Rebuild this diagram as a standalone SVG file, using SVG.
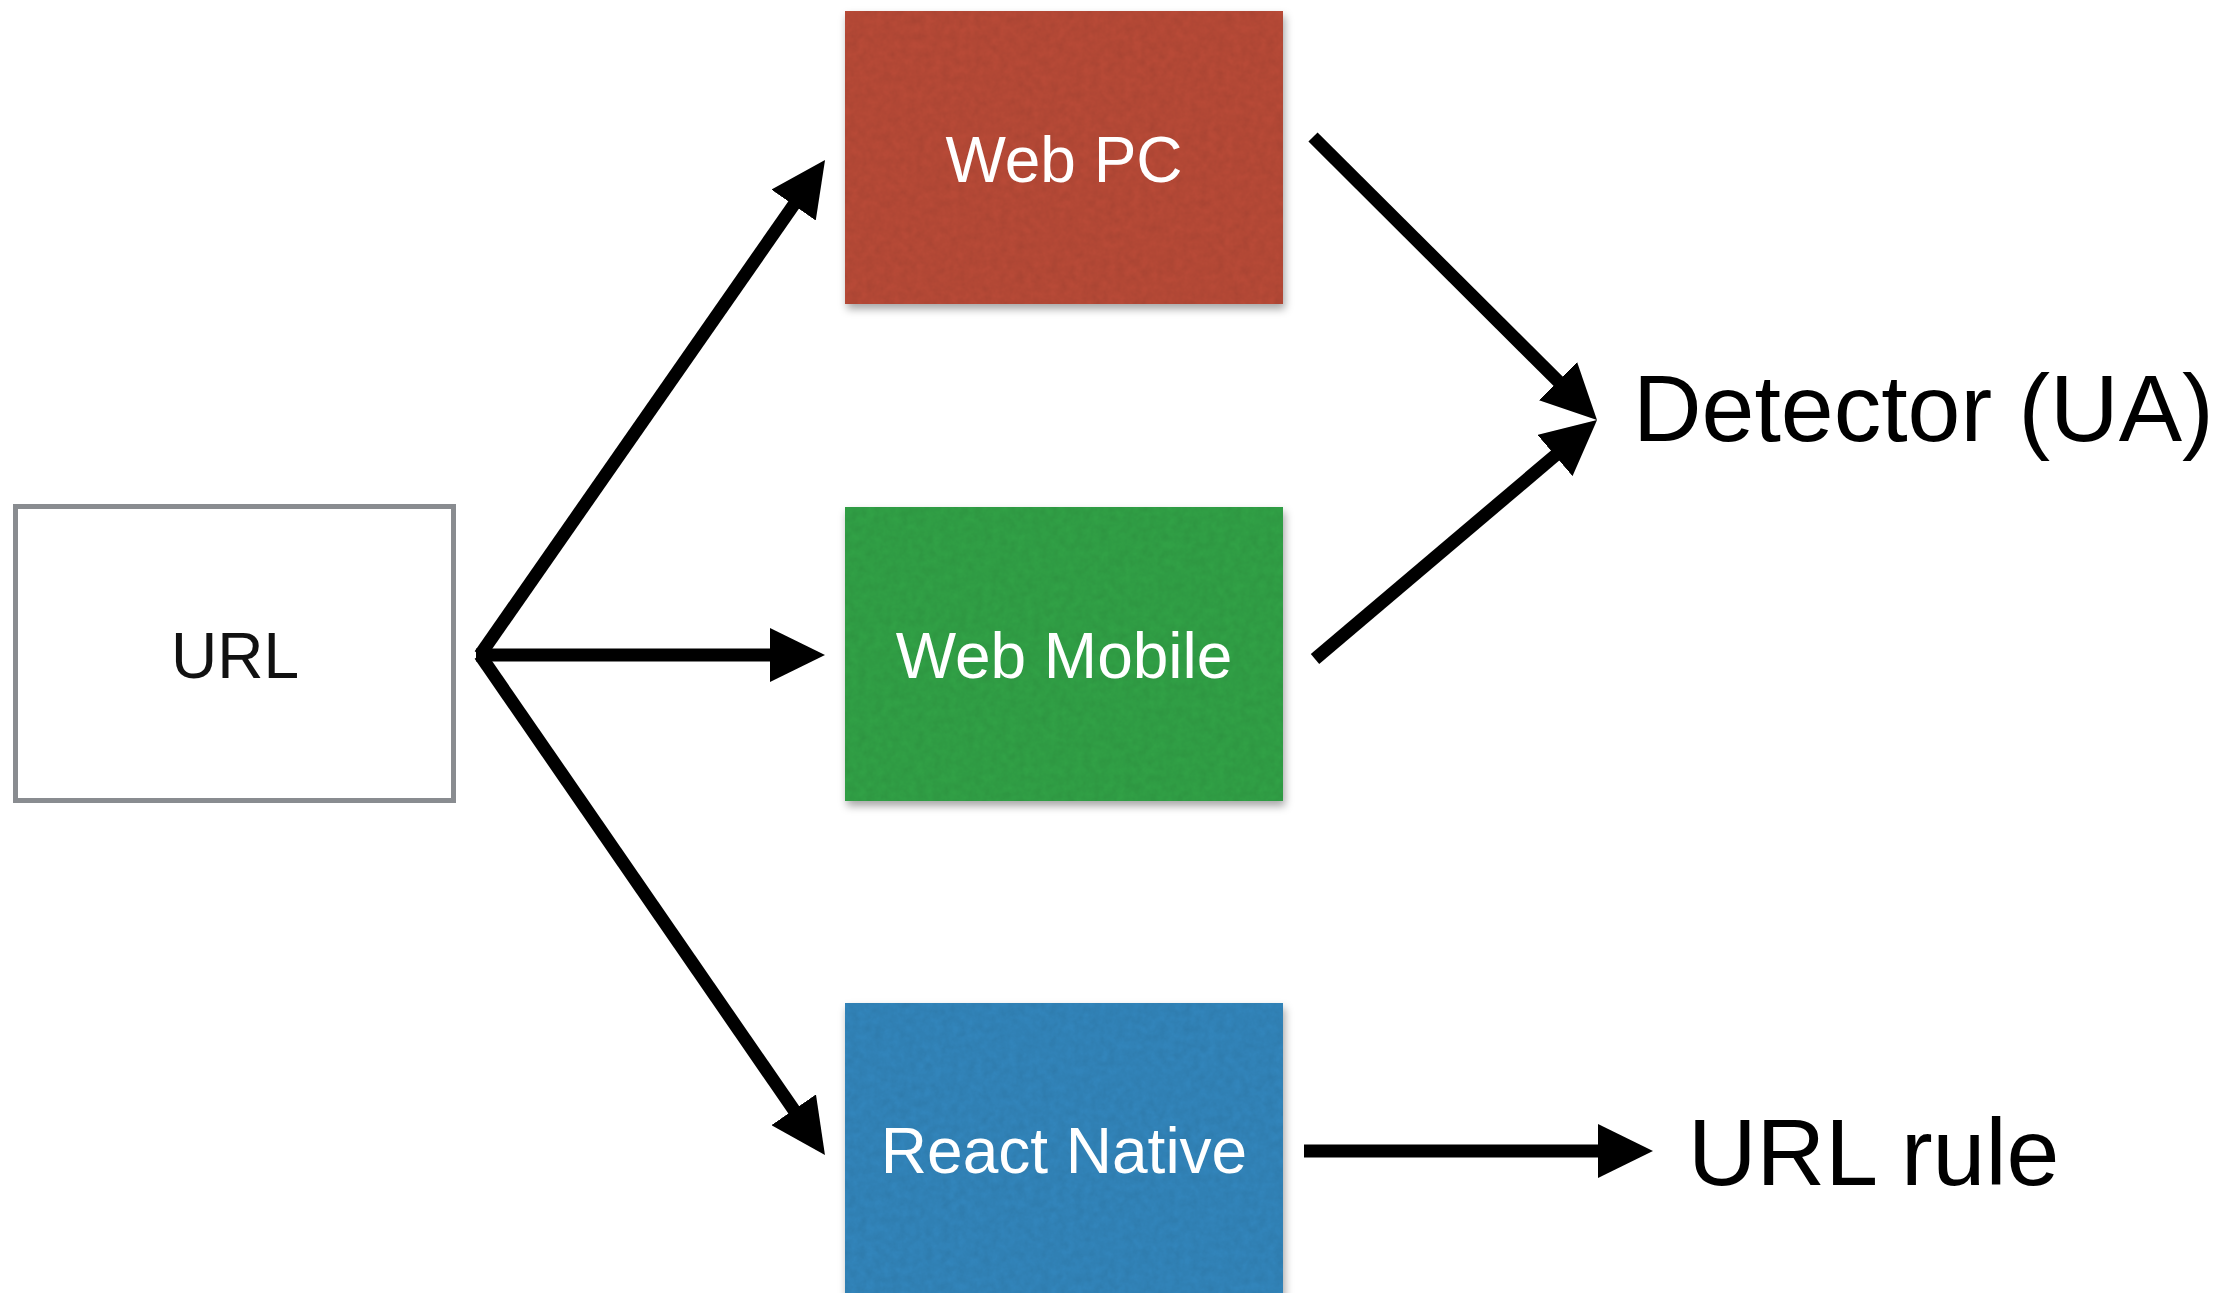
<svg xmlns="http://www.w3.org/2000/svg" width="2236" height="1293" viewBox="0 0 2236 1293">
<defs>
<style>
.lbl{font-family:"Liberation Sans",Arial,sans-serif;font-size:64px;text-anchor:middle}
.big{font-family:"Liberation Sans",Arial,sans-serif;font-size:95px;fill:#000}
.w{fill:#ffffff}
.k{fill:#111111}
.conn{stroke:#000;stroke-width:13;fill:none;stroke-linecap:butt;marker-end:url(#ah)}
</style>
<marker id="ah" viewBox="0 0 55 54" markerWidth="55" markerHeight="54" markerUnits="userSpaceOnUse" refX="10" refY="27" orient="auto">
<path d="M0,0 L55,27 L0,54 Z" fill="#000"/>
</marker>
<filter id="paper" x="-5%" y="-5%" width="112%" height="115%" color-interpolation-filters="sRGB">
<feTurbulence type="fractalNoise" baseFrequency="0.12" numOctaves="3" seed="7" result="n"/>
<feColorMatrix in="n" type="saturate" values="0" result="g"/>
<feComponentTransfer in="g" result="m">
<feFuncR type="linear" slope="0.14" intercept="0.9"/>
<feFuncG type="linear" slope="0.14" intercept="0.9"/>
<feFuncB type="linear" slope="0.14" intercept="0.9"/>
<feFuncA type="linear" slope="0" intercept="1"/>
</feComponentTransfer>
<feBlend in="SourceGraphic" in2="m" mode="multiply" result="tex"/>
<feComposite in="tex" in2="SourceAlpha" operator="in" result="tx"/>
<feGaussianBlur in="SourceAlpha" stdDeviation="4" result="b"/>
<feOffset in="b" dx="2" dy="5" result="o"/>
<feFlood flood-color="#000" flood-opacity="0.35"/>
<feComposite in2="o" operator="in" result="sh"/>
<feMerge><feMergeNode in="sh"/><feMergeNode in="tx"/></feMerge>
</filter>
</defs>
<rect width="2236" height="1293" fill="#ffffff"/>

<g id="url">
<rect x="15.5" y="506.5" width="438" height="294" fill="#ffffff" stroke="#898c90" stroke-width="5"/>
<text class="lbl k" x="235" y="678">URL</text>
</g>

<g id="web-pc">
<rect x="845" y="11" width="438" height="293" fill="#b84a37" filter="url(#paper)"/>
<text class="lbl w" x="1064" y="182">Web PC</text>
</g>

<g id="web-mobile">
<rect x="845" y="507" width="438" height="294" fill="#31a146" filter="url(#paper)"/>
<text class="lbl w" x="1064" y="678">Web Mobile</text>
</g>

<g id="react-native">
<rect x="845" y="1003" width="438" height="300" fill="#3285bb" filter="url(#paper)"/>
<text class="lbl w" x="1064" y="1173">React Native</text>
</g>

<g id="detector">
<text class="big" x="1633" y="441">Detector (UA)</text>
</g>

<g id="url-rule">
<text class="big" x="1688" y="1185">URL rule</text>
</g>

<g id="connectors">
<line class="conn" x1="480" y1="655" x2="799.3" y2="196.9"/>
<line class="conn" x1="476" y1="655" x2="780" y2="655"/>
<line class="conn" x1="480" y1="655" x2="799.4" y2="1118"/>
<line class="conn" x1="1313" y1="137" x2="1565.1" y2="388.2"/>
<line class="conn" x1="1315" y1="659" x2="1562.7" y2="449.1"/>
<line class="conn" x1="1304" y1="1151" x2="1608" y2="1151"/>
</g>
</svg>
